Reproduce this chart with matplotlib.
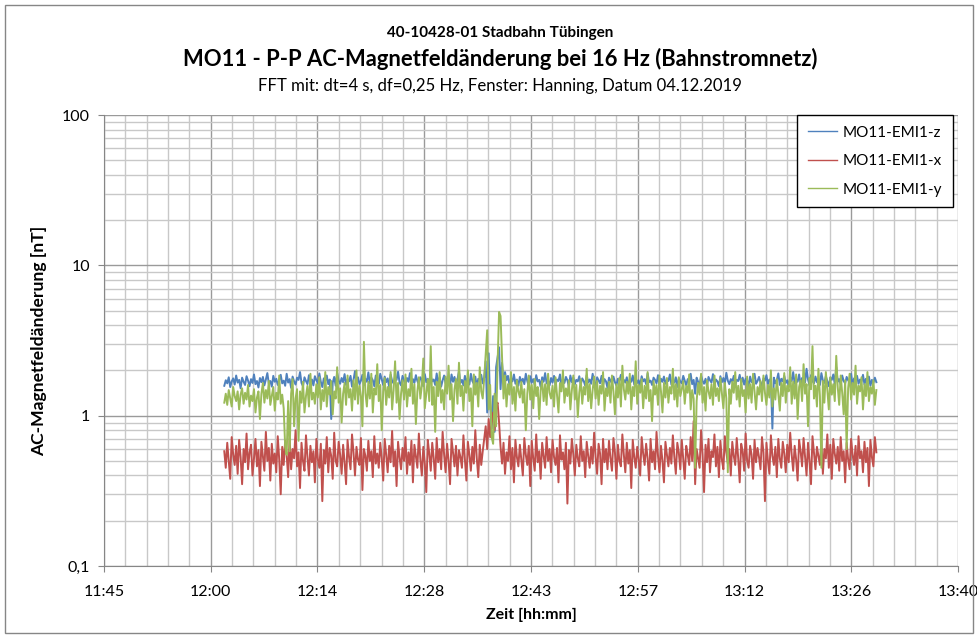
import matplotlib
matplotlib.use("Agg")
import matplotlib.pyplot as plt
import numpy as np
from matplotlib.patches import Rectangle
from matplotlib.ticker import FixedLocator, NullFormatter

# sampling: minutes since midnight, 12:01:12 onwards
start_min = 721.2
step_min = 0.2

mag_z = [
    1.58, 1.72, 1.64, 1.80, 1.55, 1.69, 1.77, 1.61, 1.85, 1.66, 1.73, 1.52, 1.79, 1.68, 1.60, 1.83, 1.71, 1.57, 1.75, 1.65,
    1.88, 1.62, 1.70, 1.54, 1.78, 1.67, 1.81, 1.59, 1.74, 1.92, 1.63, 1.70, 1.56, 1.84, 1.68, 1.76, 1.60, 1.72, 1.87, 1.64,
    1.71, 1.58, 1.90, 1.66, 1.75, 1.53, 1.82, 1.69, 1.61, 1.79, 1.73, 1.95, 1.65, 1.57, 1.80, 1.70, 1.62, 1.86, 1.67, 1.74,
    1.59, 1.83, 1.72, 1.64, 1.91, 1.68, 1.55, 1.77, 1.70, 1.85, 1.62, 1.74, 0.95, 1.66, 1.81, 1.58, 1.93, 1.71, 1.63, 1.78,
    1.67, 1.89, 1.60, 1.75, 1.69, 1.84, 1.56, 1.73, 1.98, 1.65, 1.80, 1.62, 1.71, 1.87, 1.59, 1.76, 1.68, 1.94, 1.64, 1.79,
    1.72, 1.57, 1.85, 1.69, 1.63, 1.90, 1.74, 1.60, 1.82, 1.67, 1.77, 1.55, 1.88, 1.70, 1.64, 1.81, 1.73, 1.96, 1.66, 1.59,
    1.84, 1.71, 1.62, 1.78, 1.68, 1.92, 1.58, 1.75, 1.65, 1.86, 1.70, 1.61, 1.80, 1.73, 1.57, 1.89, 1.67, 1.76, 1.63, 1.83,
    1.69, 1.74, 1.60, 1.91, 1.66, 1.79, 1.56, 1.72, 1.85, 1.64, 1.77, 1.70, 1.58, 1.88, 1.68, 1.81, 1.62, 1.75, 1.97, 1.65,
    1.73, 1.59, 1.84, 1.67, 1.78, 1.61, 1.90, 1.70, 1.63, 1.82, 1.56, 1.76, 1.69, 1.87, 1.64, 1.80, 2.30, 1.05, 2.60, 1.20,
    0.82, 1.35, 0.78, 2.10, 2.45, 2.85, 1.50, 2.25, 1.65, 1.95, 1.72, 1.84, 1.60, 1.78, 1.69, 1.88, 1.63, 1.74, 1.58, 1.81,
    1.67, 1.76, 1.62, 1.90, 1.70, 1.57, 1.83, 1.66, 1.75, 1.61, 1.86, 1.69, 1.73, 1.55, 1.80, 1.68, 1.92, 1.64, 1.71, 1.59,
    1.78, 1.66, 1.84, 1.60, 1.74, 1.70, 1.88, 1.58, 1.76, 1.65, 1.81, 1.72, 1.56, 1.85, 1.67, 1.79, 1.62, 1.73, 1.69, 1.83,
    1.61, 1.77, 1.70, 1.58, 1.86, 1.66, 1.74, 1.63, 1.90, 1.68, 1.57, 1.80, 1.72, 1.64, 1.84, 1.60, 1.75, 1.69, 1.53, 1.79,
    1.71, 1.64, 1.82, 1.67, 1.59, 1.76, 1.70, 1.87, 1.62, 1.73, 1.66, 1.80, 1.56, 1.74, 1.68, 1.85, 1.61, 1.78, 1.65, 1.72,
    1.58, 1.83, 1.69, 1.75, 1.62, 1.91, 1.67, 1.71, 1.60, 1.79, 1.73, 1.64, 1.86, 1.57, 1.76, 1.68, 1.82, 1.63, 1.74, 1.70,
    1.88, 1.61, 1.72, 1.66, 1.80, 1.55, 1.77, 1.69, 1.64, 1.84, 1.71, 1.59, 1.75, 1.67, 1.90, 1.62, 1.73, 1.40, 1.79, 1.68,
    1.60, 1.85, 1.70, 1.63, 1.76, 1.58, 1.81, 1.72, 1.66, 1.89, 1.61, 1.74, 1.69, 1.57, 1.83, 1.67, 1.78, 1.64, 1.93, 1.71,
    1.62, 1.75, 1.68, 1.84, 1.59, 1.73, 1.70, 1.87, 1.65, 1.79, 1.61, 1.76, 1.72, 1.56, 1.82, 1.67, 1.74, 1.90, 1.63, 1.70,
    1.81, 1.66, 1.58, 1.77, 1.71, 1.86, 1.62, 1.74, 1.68, 0.82, 1.79, 1.64, 1.73, 1.91, 1.60, 1.76, 1.69, 1.84, 1.65, 1.72,
    1.57, 1.80, 1.70, 1.95, 1.63, 1.75, 1.68, 1.88, 1.61, 1.78, 1.72, 1.66, 2.05, 1.74, 1.59, 1.86, 1.70, 1.64, 1.82, 1.67,
    1.76, 1.60, 1.92, 1.71, 1.65, 1.83, 1.69, 1.57, 1.79, 1.73, 1.88, 1.62, 2.10, 1.68, 1.75, 1.61, 1.85, 1.70, 1.64, 1.81,
    1.72, 1.66, 1.90, 1.59, 1.77, 1.70, 1.84, 1.63, 1.74, 1.68, 1.87, 1.61, 1.76, 1.69, 1.82, 1.58, 1.73, 1.65, 1.79, 1.67,
]

mag_x = [
    0.58, 0.45, 0.66, 0.50, 0.38, 0.72, 0.55, 0.47, 0.63, 0.41, 0.69, 0.53, 0.35, 0.60, 0.49, 0.76, 0.44, 0.57, 0.64, 0.40,
    0.52, 0.70, 0.46, 0.59, 0.34, 0.67, 0.54, 0.43, 0.78, 0.50, 0.61, 0.37, 0.65, 0.48, 0.56, 0.42, 0.73, 0.51, 0.30, 0.62,
    0.47, 0.68, 0.55, 0.39, 0.71, 0.44, 0.60, 0.52, 0.80, 0.46, 0.57, 0.33, 0.66, 0.50, 0.43, 0.74, 0.53, 0.40, 0.63, 0.49,
    0.58, 0.36, 0.70, 0.51, 0.45, 0.65, 0.27, 0.59, 0.48, 0.72, 0.42, 0.61, 0.54, 0.38, 0.77, 0.50, 0.46, 0.67, 0.55, 0.41,
    0.64, 0.49, 0.35, 0.69, 0.53, 0.44, 0.75, 0.57, 0.40, 0.62, 0.51, 0.47, 0.71, 0.32, 0.60, 0.54, 0.43, 0.68, 0.50, 0.58,
    0.39, 0.73, 0.48, 0.56, 0.45, 0.66, 0.52, 0.37, 0.70, 0.55, 0.42, 0.63, 0.49, 0.79, 0.46, 0.58, 0.34, 0.67, 0.53, 0.44,
    0.61, 0.50, 0.72, 0.41, 0.57, 0.47, 0.68, 0.36, 0.64, 0.54, 0.45, 0.76, 0.51, 0.40, 0.62, 0.48, 0.31, 0.69, 0.56, 0.43,
    0.66, 0.52, 0.38, 0.71, 0.49, 0.60, 0.44, 0.78, 0.55, 0.42, 0.65, 0.50, 0.35, 0.70, 0.57, 0.46, 0.63, 0.40, 0.59, 0.53,
    0.45, 0.74, 0.51, 0.37, 0.67, 0.55, 0.43, 0.62, 0.48, 0.80, 0.52, 0.39, 0.64, 0.47, 0.58, 0.70, 0.85, 0.60, 0.95, 0.72,
    0.88, 1.05, 0.80, 1.15, 1.22, 0.90, 0.62, 0.48, 0.66, 0.41, 0.57, 0.50, 0.73, 0.44, 0.61, 0.36, 0.69, 0.53, 0.46, 0.64,
    0.51, 0.40, 0.71, 0.55, 0.47, 0.63, 0.34, 0.68, 0.52, 0.43, 0.75, 0.49, 0.58, 0.38, 0.66, 0.54, 0.45, 0.72, 0.50, 0.60,
    0.42, 0.69, 0.53, 0.47, 0.61, 0.36, 0.74, 0.51, 0.57, 0.44, 0.66, 0.26, 0.59, 0.48, 0.70, 0.55, 0.40, 0.64, 0.52, 0.46,
    0.73, 0.50, 0.58, 0.39, 0.67, 0.54, 0.45, 0.62, 0.48, 0.77, 0.53, 0.41, 0.65, 0.56, 0.35, 0.70, 0.49, 0.60, 0.44, 0.68,
    0.52, 0.43, 0.71, 0.57, 0.38, 0.64, 0.50, 0.46, 0.75, 0.55, 0.42, 0.66, 0.48, 0.59, 0.33, 0.69, 0.53, 0.45, 0.62, 0.51,
    0.40, 0.72, 0.56, 0.47, 0.65, 0.52, 0.37, 0.70, 0.49, 0.58, 0.44, 0.78, 0.54, 0.42, 0.63, 0.50, 0.36, 0.67, 0.55, 0.46,
    0.61, 0.48, 0.74, 0.53, 0.41, 0.66, 0.57, 0.44, 0.69, 0.51, 0.38, 0.63, 0.55, 0.47, 0.72, 0.50, 0.92, 0.35, 0.60, 0.52,
    0.45, 0.80, 0.55, 0.31, 0.64, 0.49, 0.70, 0.42, 0.58, 0.53, 0.75, 0.46, 0.62, 0.39, 0.68, 0.51, 0.44, 0.73, 0.57, 0.48,
    0.60, 0.40, 0.67, 0.54, 0.47, 0.71, 0.52, 0.36, 0.65, 0.58, 0.43, 0.76, 0.50, 0.45, 0.63, 0.55, 0.38, 0.69, 0.49, 0.61,
    0.53, 0.44, 0.72, 0.57, 0.27, 0.66, 0.50, 0.41, 0.74, 0.54, 0.47, 0.62, 0.39, 0.70, 0.52, 0.45, 0.67, 0.56, 0.42, 0.64,
    0.49, 0.77, 0.55, 0.43, 0.63, 0.51, 0.37, 0.69, 0.58, 0.46, 0.71, 0.53, 0.40, 0.66, 0.50, 0.35, 0.73, 0.57, 0.44, 0.62,
    0.54, 0.47, 0.68, 0.41, 0.60, 0.52, 0.75, 0.45, 0.64, 0.38, 0.70, 0.56, 0.48, 0.62, 0.43, 0.72, 0.50, 0.58, 0.36, 0.66,
    0.51, 0.44, 0.70, 0.55, 0.47, 0.63, 0.40, 0.73, 0.52, 0.58, 0.42, 0.67, 0.49, 0.61, 0.34, 0.69, 0.53, 0.46, 0.72, 0.57,
]

mag_y = [
    1.22, 1.40, 1.18, 1.48, 1.30, 1.15, 1.55, 1.35, 1.25, 1.45, 1.10, 1.38, 1.52, 1.20, 1.42, 1.28, 1.60, 1.15, 1.36, 1.25,
    1.50, 1.05, 1.32, 1.45, 0.95, 1.40, 1.65, 1.22, 1.48, 1.30, 1.70, 1.18, 1.35, 1.55, 1.08, 1.42, 1.28, 1.85, 1.20, 1.38,
    1.12, 0.62, 0.55, 1.25, 0.58, 1.40, 1.75, 0.85, 1.30, 1.50, 0.68, 1.45, 1.22, 1.68, 1.05, 1.35, 1.58, 1.15, 1.90, 1.28,
    1.42, 1.20, 1.62, 1.32, 1.80, 1.10, 1.48, 1.25, 1.95, 1.15, 1.55, 1.38, 1.70, 1.02, 1.45, 1.30, 2.10, 1.22, 1.52, 0.90,
    1.40, 1.65, 1.18, 1.85, 1.32, 1.50, 1.08, 1.72, 1.28, 2.00, 1.20, 1.58, 1.35, 0.85, 3.10, 1.42, 1.15, 1.68, 1.30, 1.90,
    1.05, 1.52, 1.38, 2.20, 1.25, 1.60, 0.80, 1.45, 1.78, 1.18, 1.55, 1.32, 1.95, 1.10, 1.48, 2.30, 1.22, 1.65, 0.95, 1.40,
    1.72, 1.28, 1.88, 1.15, 1.50, 1.35, 2.05, 1.20, 1.62, 0.88, 1.45, 1.80, 1.30, 1.58, 2.40, 1.12, 1.40, 1.75, 1.25, 2.90,
    1.18, 1.55, 0.78, 1.68, 1.35, 1.95, 1.22, 1.48, 1.10, 1.82, 1.40, 2.15, 1.28, 1.62, 0.92, 1.50, 1.75, 1.20, 2.25, 1.35,
    1.58, 1.08, 1.70, 1.42, 2.00, 1.25, 1.52, 0.85, 1.88, 1.38, 1.65, 1.15, 2.10, 1.45, 1.30, 1.78, 2.60, 3.70, 1.10, 1.60,
    0.72, 0.65, 1.40, 0.85, 2.20, 4.90, 4.60, 2.40, 1.30, 1.85, 1.15, 1.62, 1.38, 1.95, 1.20, 1.55, 1.08, 1.72, 1.45, 1.32,
    1.68, 1.22, 1.50, 0.80, 1.40, 1.85, 1.28, 1.60, 1.12, 1.75, 1.35, 1.55, 0.95, 1.48, 1.70, 1.25, 1.62, 1.18, 1.90, 1.42,
    1.30, 1.58, 1.15, 1.80, 1.38, 1.05, 1.65, 1.45, 2.00, 1.22, 1.52, 1.35, 1.72, 1.10, 1.48, 1.85, 1.28, 1.60, 0.98, 1.42,
    1.75, 1.20, 1.55, 1.38, 2.05, 1.25, 1.62, 1.12, 1.48, 1.82, 1.30, 1.70, 1.18, 1.58, 1.40, 1.95, 1.08, 1.52, 1.35, 1.68,
    1.22, 1.85, 1.45, 1.02, 1.62, 1.32, 1.78, 1.15, 2.15, 1.50, 1.28, 1.68, 1.40, 1.90, 1.10, 1.55, 1.35, 2.30, 1.20, 1.60,
    1.42, 1.75, 1.12, 1.58, 1.30, 1.95, 1.25, 1.48, 0.92, 1.70, 1.38, 1.60, 1.18, 1.85, 1.45, 1.05, 1.65, 1.32, 1.78, 1.22,
    1.55, 1.40, 2.05, 1.28, 1.62, 1.15, 1.80, 1.35, 1.50, 1.70, 1.20, 1.58, 1.42, 1.88, 1.10, 1.48, 1.30, 0.45, 1.25, 1.65,
    1.38, 1.90, 1.22, 1.55, 1.08, 1.72, 1.45, 1.30, 1.62, 1.18, 1.85, 1.35, 1.52, 1.25, 1.78, 1.40, 1.12, 1.65, 1.30, 0.42,
    1.50, 1.20, 1.68, 1.42, 1.95, 1.28, 1.58, 1.15, 1.75, 1.35, 1.48, 1.05, 1.82, 1.30, 1.62, 1.22, 1.90, 1.45, 1.10, 1.55,
    1.38, 1.70, 1.25, 1.85, 1.42, 1.18, 1.60, 1.32, 2.00, 1.15, 1.52, 1.28, 1.75, 1.40, 1.08, 1.65, 1.35, 1.92, 1.22, 1.58,
    1.45, 2.10, 1.20, 1.68, 1.30, 1.88, 0.95, 1.55, 1.72, 1.25, 2.20, 1.40, 1.62, 0.85, 1.78, 1.50, 2.90, 1.30, 1.58, 1.15,
    2.05, 1.35, 0.45, 1.70, 1.22, 1.95, 1.48, 1.10, 1.80, 1.38, 1.62, 1.25, 2.50, 1.55, 1.18, 1.85, 1.42, 1.02, 1.72, 0.60,
    1.52, 1.90, 1.28, 1.65, 1.38, 2.15, 1.20, 1.58, 1.45, 1.80, 1.10, 1.62, 1.35, 1.95, 1.25, 1.55, 1.40, 1.72, 1.18, 1.48,
]

series_names = ["MO11-EMI1-z", "MO11-EMI1-x", "MO11-EMI1-y"]
series_colors = ["#4F81BD", "#C0504D", "#9BBB59"]

x_min, x_max = 705.0, 820.0   # 11:45 .. 13:40
x_tick_labels = ["11:45", "12:00", "12:14", "12:28", "12:43", "12:57", "13:12", "13:26", "13:40"]
y_ticks = [0.1, 1, 10, 100]
y_tick_labels = ["0,1", "1", "10", "100"]

plt.rcParams["font.family"] = ["Lato", "DejaVu Sans"]

fig = plt.figure(figsize=(9.78, 6.38), dpi=100)
ax = fig.add_axes([0.1063, 0.1129, 0.8733, 0.7068])

t = start_min + step_min * np.arange(len(mag_z))
for vals, name, col in zip([mag_z, mag_x, mag_y], series_names, series_colors):
    ax.plot(t, vals, color=col, lw=1.4, label=name)

ax.set_yscale("log")
ax.set_ylim(0.1, 100)
ax.set_xlim(x_min, x_max)

major_x = np.linspace(x_min, x_max, len(x_tick_labels))
minor_x = np.linspace(x_min, x_max, 5 * (len(x_tick_labels) - 1) + 1)
ax.xaxis.set_major_locator(FixedLocator(major_x))
ax.xaxis.set_minor_locator(FixedLocator(minor_x))
ax.set_xticklabels(x_tick_labels)
ax.xaxis.set_minor_formatter(NullFormatter())

ax.set_yticks(y_ticks)
ax.set_yticklabels(y_tick_labels)
minor_y = [m * 10.0 ** e for e in (-1, 0, 1) for m in range(2, 10)]
ax.yaxis.set_minor_locator(FixedLocator(minor_y))
ax.yaxis.set_minor_formatter(NullFormatter())

ax.grid(which="major", color="#9A9A9A", lw=1.0)
ax.grid(which="minor", color="#C8C8C8", lw=1.0)
ax.set_axisbelow(True)
for s in ["top", "right"]:
    ax.spines[s].set_visible(False)
for s in ["left", "bottom"]:
    ax.spines[s].set_color("#868686")
ax.tick_params(which="major", length=4, color="#868686", labelsize=11.5, pad=6)
ax.tick_params(which="minor", length=0)
ax.tick_params(axis="x", pad=10)

ax.set_xlabel("Zeit [hh:mm]", fontsize=11.5, fontweight="bold", labelpad=6)
ax.set_ylabel("AC-Magnetfeldänderung [nT]", fontsize=12.6, fontweight="bold", labelpad=11)

title_x = 500 / 978
fig.text(title_x, 1 - 33 / 638, "40-10428-01 Stadbahn Tübingen", ha="center", va="center",
         fontsize=11, fontweight="bold")
fig.text(title_x, 1 - 59 / 638, "MO11 - P-P AC-Magnetfeldänderung bei 16 Hz (Bahnstromnetz)", ha="center",
         va="center", fontsize=15.8, fontweight="bold")
fig.text(title_x, 1 - 86 / 638, "FFT mit: dt=4 s, df=0,25 Hz, Fenster: Hanning, Datum 04.12.2019", ha="center",
         va="center", fontsize=12.1)

leg = ax.legend(loc="upper right", bbox_to_anchor=(953 / 978, 1 - 115 / 638), bbox_transform=fig.transFigure,
                borderaxespad=0, fontsize=11, fancybox=False, framealpha=1, edgecolor="black", borderpad=0.7,
                handlelength=1.9, handletextpad=0.4, labelspacing=0.95)
leg.get_frame().set_linewidth(1.0)
for line in leg.get_lines():
    line.set_linewidth(1.0)

fig.patches.append(Rectangle((5 / 978, 5 / 638), 968 / 978, 628 / 638, transform=fig.transFigure,
                             fill=False, edgecolor="#868686", lw=1.0))

fig.savefig("out.png", dpi=100)
